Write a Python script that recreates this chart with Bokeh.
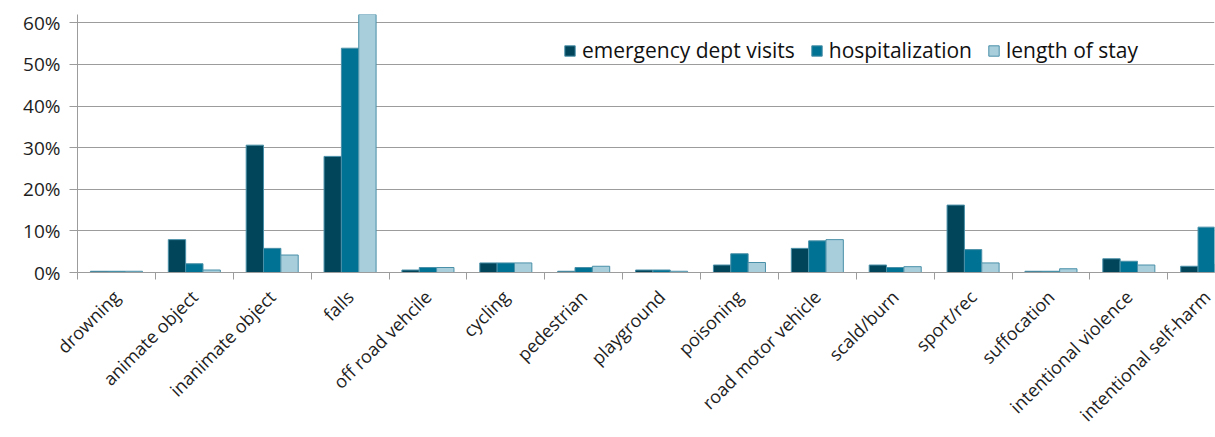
from bokeh.plotting import figure
from bokeh.models import (ColumnDataSource, FixedTicker, NumeralTickFormatter,
                          CustomJSTickFormatter, Legend, LegendItem, Range1d)
from bokeh.transform import dodge
from bokeh.embed import file_html
from bokeh.resources import INLINE

# Share of injuries by cause, per outcome measure
categories = ["drowning", "animate object", "inanimate object", "falls",
              "off road vehcile", "cycling", "pedestrian", "playground",
              "poisoning", "road motor vehicle", "scald/burn", "sport/rec",
              "suffocation", "intentional violence", "intentional self-harm"]
ed_visits = [0.003, 0.079, 0.306, 0.279, 0.006, 0.023, 0.003, 0.006,
             0.018, 0.058, 0.018, 0.162, 0.003, 0.033, 0.015]
hospitalization = [0.003, 0.021, 0.058, 0.539, 0.012, 0.023, 0.012, 0.006,
                   0.045, 0.076, 0.012, 0.055, 0.003, 0.027, 0.109]
length_of_stay = [0.003, 0.006, 0.042, 0.66, 0.012, 0.023, 0.015, 0.003,
                  0.024, 0.079, 0.014, 0.023, 0.009, 0.018, 0.02]
y_ticks = [0.0, 0.1, 0.2, 0.3, 0.4, 0.5, 0.6]

FONT = "Open Sans"
GRID = "#9c9c9c"
C_ED, C_HOSP, C_LOS = "#00455a", "#007293", "#a8cedc"
EDGE = "#4a90a8"

n = len(categories)
source = ColumnDataSource(dict(
    x=[i + 0.5 for i in range(n)],
    ed=ed_visits, hosp=hospitalization, los=length_of_stay,
))

p = figure(width=1215, height=437, output_backend="svg", toolbar_location=None,
           x_range=Range1d(0, 14.6), y_range=Range1d(0, 0.62),
           min_border_left=77, min_border_right=1, min_border_top=14,
           min_border_bottom=164)
p.outline_line_color = None
p.background_fill_color = "white"
p.border_fill_color = "white"

bw = 0.2227
r_ed = p.vbar(x=dodge("x", -bw, range=p.x_range), top="ed", width=bw, source=source,
              fill_color=C_ED, line_color=EDGE, line_width=1)
r_hosp = p.vbar(x=dodge("x", 0.0, range=p.x_range), top="hosp", width=bw, source=source,
                fill_color=C_HOSP, line_color=EDGE, line_width=1)
r_los = p.vbar(x=dodge("x", bw, range=p.x_range), top="los", width=bw, source=source,
               fill_color=C_LOS, line_color=EDGE, line_width=1)

# y axis: percentages with horizontal grid
p.yaxis.ticker = FixedTicker(ticks=y_ticks)
p.yaxis.formatter = NumeralTickFormatter(format="0%")
p.yaxis.axis_line_color = GRID
p.yaxis.major_tick_line_color = GRID
p.yaxis.major_tick_out = 8
p.yaxis.major_tick_in = 0
p.yaxis.minor_tick_line_color = None
p.yaxis.major_label_text_font = FONT
p.yaxis.major_label_text_font_size = "19px"
p.yaxis.major_label_text_color = "#1e1e1e"
p.yaxis.major_label_standoff = 9
p.ygrid.ticker = FixedTicker(ticks=y_ticks)
p.ygrid.grid_line_color = GRID
p.ygrid.grid_line_width = 1
p.xgrid.grid_line_color = None

# x axis: labels at category centres, tick marks between categories
p.xaxis.ticker = FixedTicker(ticks=[i + 0.5 for i in range(n)],
                             minor_ticks=list(range(n + 1)))
p.xaxis.formatter = CustomJSTickFormatter(args=dict(names=categories),
                                          code="return names[Math.floor(tick)];")
p.xaxis.axis_line_color = GRID
p.xaxis.major_tick_line_color = None
p.xaxis.major_tick_out = 0
p.xaxis.minor_tick_line_color = GRID
p.xaxis.minor_tick_out = 7
p.xaxis.minor_tick_in = 0
p.xaxis.major_label_orientation = 0.785398
p.xaxis.major_label_text_font = FONT
p.xaxis.major_label_text_font_size = "18px"
p.xaxis.major_label_text_color = "#1e1e1e"
p.xaxis.major_label_standoff = 14

legend = Legend(items=[
    LegendItem(label="emergency dept visits", renderers=[r_ed]),
    LegendItem(label="hospitalization", renderers=[r_hosp]),
    LegendItem(label="length of stay", renderers=[r_los]),
], orientation="horizontal", location=(486, 208))
legend.border_line_color = None
legend.background_fill_alpha = 0
legend.label_text_font = FONT
legend.label_text_font_size = "21px"
legend.label_text_color = "#111111"
legend.glyph_width = 13
legend.glyph_height = 13
legend.label_standoff = 6
legend.spacing = 15
legend.padding = 0
legend.margin = 0
p.add_layout(legend)

open("out.html", "w").write(file_html(p, INLINE))
